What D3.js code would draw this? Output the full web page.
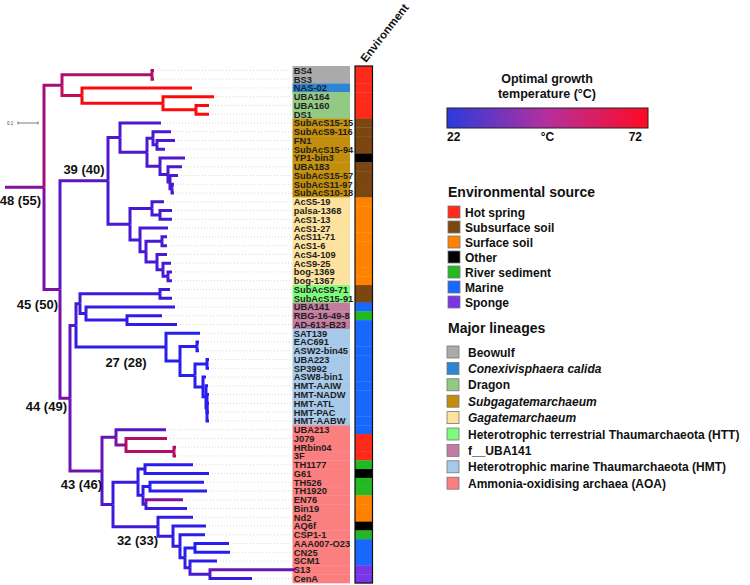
<!DOCTYPE html>
<html><head><meta charset="utf-8">
<script src="https://cdn.jsdelivr.net/npm/d3@7"></script>
<style>body{margin:0;background:#fff} svg{display:block} text{font-family:"Liberation Sans",Arial,sans-serif}</style>
</head><body><svg id="c" width="750" height="585"></svg>
<script>
// ---------------- DATA ----------------
// Phylogeny (branch lengths in substitutions/site); "@" gives the optimal growth temperature of the branch
const treeNewick =
"(((BS4@55:0.01,BS3@55:0.01)Beo@55:0.45,(NAS-02@72:0.55,(UBA164@72:0.255,(UBA160@72:0.065,DS1@72:0.065)D2@72:0.165)Dra@70:0.405)C@58:0.10)A@53:0.09," +
"(((SubAcS15-15@33:0.205,((SubAcS9-116@32:0.09,(FN1@32:0.09,SubAcS15-94@32:0.04)S3b@32:0.02)S3@32:0.03,(YP1-bin3@33:0.125,(UBA183@32:0.07,(SubAcS15-57@32:0.04,(SubAcS11-97@32:0.01,SubAcS10-18@32:0.01)S7@32:0.01)S6@32:0.01)S5@32:0.04)S4@33:0.065)S2@33:0.135)S1@34:0.06," +
"((AcS5-19@31:0.06,(palsa-1368@31:0.06,AcS1-13@31:0.06)GagA2@31:0.04)GagA@31:0.11,(AcS1-27@31:0.14,((AcS11-71@31:0.025,AcS1-6@31:0.025)GagC1@31:0.08,(AcS4-109@31:0.05,(AcS9-25@31:0.04,(bog-1369@31:0.02,bog-1367@31:0.02)GagF@31:0.025)GagE@31:0.03)GagD@31:0.055)GagC@31:0.03)GagB@31:0.05)Gag@32:0.11)G@35:0.24," +
"((((SubAcS9-71@28:0.05,SubAcS15-91@28:0.06)HTT@29:0.40,(UBA141@27:0.445,(RBG-16-49-8@26:0.175,AD-613-B23@26:0.25)F2@26:0.205)F@28:0.03)N80@32:0.02," +
"(SAT139@24:0.17,((EAC691@24:0.01,ASW2-bin45@24:0.01)H2a@24:0.085,((UBA223@24:0.01,SP3992@24:0.01)H3a@24:0.06,(ASW8-bin1@24:0.015,(HMT-AAIW@24:0.01,(HMT-NADW@24:0.01,HMT-ATL@24:0.01,HMT-PAC@24:0.01,HMT-AABW@24:0.01)H6@24:0.005)H5@24:0.015)H4@24:0.04)H3@24:0.075)H2@24:0.07)H1@25:0.45)N76@37:0.03," +
"((UBA213@35:0.25,(J079@56:0.205,(HRbin04@56:0.01,3F@56:0.01)A3@56:0.24)A2@45:0.05)A1@40:0.07," +
"(((TH1177@25:0.24,G61@24:0.32)A6@26:0.035,((TH526@24:0.27,TH1920@24:0.285)A8@25:0.035,(EN76@45:0.185,Bin19@28:0.205)A9@30:0.015)A7@27:0.025)A5@28:0.125," +
"(Nd2@27:0.175,(AQ6f@26:0.165,(CSP1-1@25:0.125,((AAA007-O23@23:0.17,CN25@23:0.175)A14@24:0.05,(SCM1@25:0.135,(S13@40:0.425,CenA@28:0.21)A16@32:0.10)A15@27:0.025)A13@25:0.025)A12@26:0.035)A11@27:0.075)A10@30:0.225)A4@33:0.055)AOA@40:0.16)N70@42:0.05)B@44:0.08)root@46:0.195;";

const leafNames = ["BS4","BS3","NAS-02","UBA164","UBA160","DS1","SubAcS15-15","SubAcS9-116","FN1","SubAcS15-94","YP1-bin3","UBA183","SubAcS15-57","SubAcS11-97","SubAcS10-18","AcS5-19","palsa-1368","AcS1-13","AcS1-27","AcS11-71","AcS1-6","AcS4-109","AcS9-25","bog-1369","bog-1367","SubAcS9-71","SubAcS15-91","UBA141","RBG-16-49-8","AD-613-B23","SAT139","EAC691","ASW2-bin45","UBA223","SP3992","ASW8-bin1","HMT-AAIW","HMT-NADW","HMT-ATL","HMT-PAC","HMT-AABW","UBA213","J079","HRbin04","3F","TH1177","G61","TH526","TH1920","EN76","Bin19","Nd2","AQ6f","CSP1-1","AAA007-O23","CN25","SCM1","S13","CenA"];

// lineage index (into lineages) for each leaf
const leafLineage = [0,0,1,2,2,2,3,3,3,3,3,3,3,3,3,4,4,4,4,4,4,4,4,4,4,5,5,6,6,6,7,7,7,7,7,7,7,7,7,7,7,8,8,8,8,8,8,8,8,8,8,8,8,8,8,8,8,8,8];
// environment index (into envSources) for each leaf
const leafEnv = [0,0,0,0,0,0,1,1,1,1,3,1,1,1,1,2,2,2,2,2,2,2,2,2,2,1,1,5,4,5,5,5,5,5,5,5,5,5,5,5,5,5,0,0,0,4,3,4,4,2,2,2,3,4,5,5,5,6,6];

const lineages = ["Beowulf","Conexivisphaera calida","Dragon","Subgagatemarchaeum","Gagatemarchaeum","Heterotrophic terrestrial Thaumarchaeota (HTT)","f__UBA141","Heterotrophic marine Thaumarchaeota (HMT)","Ammonia-oxidising archaea (AOA)"];
const lineageItalic = [false,true,false,true,true,false,false,false,false];
const lineageColors = ["#ababab","#2c86d2","#92c983","#c28e0c","#fde29d","#7dfb7b","#c27c9f","#a6c9ea","#fb7f7e"];

const envSources = ["Hot spring","Subsurface soil","Surface soil","Other","River sediment","Marine","Sponge"];
const envColors = ["#ff2a1a","#7c4610","#ff8200","#000000","#22b922","#1868ff","#7a36e6"];

const nodeLabels = [
  {node:"root", text:"48 (55)"},
  {node:"G",    text:"39 (40)"},
  {node:"B",    text:"45 (50)"},
  {node:"N70",  text:"44 (49)"},
  {node:"H1",   text:"27 (28)"},
  {node:"AOA",  text:"43 (46)"},
  {node:"A10",  text:"32 (33)"}
];
const tempRange = [22, 72];
const tempTickLabels = ["22","°C","72"];
const scaleBarValue = 0.1;

// ---------------- PARSE ----------------
function parseNewick(s){
  let i=0;
  function node(){
    const n={children:[]};
    if(s[i]==='('){
      i++; n.children.push(node());
      while(s[i]===','){ i++; n.children.push(node()); }
      i++;
    }
    let name='';
    while(i<s.length && !',():;'.includes(s[i])) name+=s[i++];
    let len=0;
    if(s[i]===':'){ i++; let l=''; while(i<s.length && !',();'.includes(s[i])) l+=s[i++]; len=+l; }
    const parts=name.split('@'); n.name=parts[0]; n.temp=+parts[1]; n.length=len;
    return n;
  }
  return node();
}
const root = d3.hierarchy(parseNewick(treeNewick), d=>d.children.length?d.children:null);
root.each(d=>{ d.dist = (d.parent?d.parent.dist:0) + d.data.length; });

// ---------------- SCALES ----------------
const svg = d3.select("#c");
const x = d3.scaleLinear().domain([0,1.45]).range([5,295]);
const y = d3.scaleBand().domain(leafNames).range([66,583]).padding(0);
const bw = y.bandwidth();
const tcol = d3.scaleLinear().domain([22,47,72]).range(["#1f1ff5","#8a0f9a","#ff0a0a"]).interpolate(d3.interpolateRgb);

root.eachAfter(d=>{
  if(!d.children) d.y = y(d.data.name)+bw/2;
  else d.y = (d.children[0].y + d.children[d.children.length-1].y)/2;
});
const byName = {}; root.each(d=>byName[d.data.name]=d);

// ---------------- LABEL COLUMN ----------------
const leaves = root.leaves();
const gl = svg.append("g");
gl.selectAll("line.lead").data(leaves).join("line")
  .attr("x1",d=>x(d.dist)+3).attr("x2",292).attr("y1",d=>d.y).attr("y2",d=>d.y)
  .attr("stroke","#c8c8c8").attr("stroke-width",0.7).attr("stroke-dasharray","1,2");
gl.selectAll("rect.lin").data(leafNames).join("rect")
  .attr("x",292.5).attr("y",d=>y(d)).attr("width",57.5).attr("height",bw+0.3)
  .attr("fill",(d,i)=>lineageColors[leafLineage[i]]);
gl.selectAll("text.leaf").data(leafNames).join("text")
  .attr("x",293.8).attr("y",d=>y(d)+bw/2+3.4).text(d=>d)
  .attr("font-size","9.3px").attr("font-weight","bold").attr("fill","#1e1e1e");

// environment strip
gl.selectAll("rect.env").data(leafNames).join("rect")
  .attr("x",355).attr("y",d=>y(d)).attr("width",17.5).attr("height",bw+0.3)
  .attr("fill",(d,i)=>envColors[leafEnv[i]]);
gl.append("rect").attr("x",355).attr("y",66).attr("width",17.5).attr("height",583-66)
  .attr("fill","none").attr("stroke","#111").attr("stroke-width",1.2);
gl.append("text").attr("transform","translate(366,63) rotate(-52)")
  .text("Environment").attr("font-size","11.5px").attr("font-weight","bold").attr("fill","#111");

// ---------------- TREE ----------------
const gt = svg.append("g").attr("fill","none").attr("stroke-width",3);
gt.append("line").attr("x1",x(0)).attr("x2",x(root.dist)).attr("y1",root.y).attr("y2",root.y)
  .attr("stroke",tcol(root.data.temp));
gt.selectAll("path.br").data(root.descendants().filter(d=>d.parent)).join("path")
  .attr("d",d=>`M${x(d.parent.dist)},${d.parent.y}L${x(d.parent.dist)},${d.y}L${x(d.dist)},${d.y}`)
  .attr("stroke",d=>tcol(d.data.temp)).attr("stroke-linejoin","miter");

// node labels
const labelPos = {
  root:{ref:"node",anchor:"end",dx:-3,dy:18},
  G:{ref:"mid",anchor:"middle",dx:0,dy:-6.5},
  B:{ref:"node",anchor:"end",dx:-2,dy:19},
  N70:{ref:"node",anchor:"end",dx:-3,dy:12.5},
  H1:{ref:"mid",anchor:"middle",dx:5,dy:20},
  AOA:{ref:"node",anchor:"end",dx:0,dy:18.5},
  A10:{ref:"mid",anchor:"middle",dx:2,dy:18}
};
svg.append("g").selectAll("text").data(nodeLabels).join("text")
  .each(function(l){
    const n=byName[l.node], p=labelPos[l.node];
    const px = n.parent? x(n.parent.dist) : x(0);
    const bx = p.ref==="node" ? x(n.dist) : (px + x(n.dist))/2;
    d3.select(this).attr("x",bx+p.dx).attr("y",n.y+p.dy).attr("text-anchor",p.anchor);
  })
  .text(l=>l.text).attr("font-size","13px").attr("font-weight","bold").attr("fill","#111");

// scale bar
const sb = svg.append("g").attr("stroke","#555").attr("stroke-width",0.8);
sb.append("line").attr("x1",18).attr("x2",18+x(scaleBarValue)-x(0)).attr("y1",123).attr("y2",123);
sb.append("line").attr("x1",18).attr("x2",18).attr("y1",121.5).attr("y2",124.5);
sb.append("line").attr("x1",18+x(scaleBarValue)-x(0)).attr("x2",18+x(scaleBarValue)-x(0)).attr("y1",121.5).attr("y2",124.5);
svg.append("text").attr("x",7).attr("y",124.5).text(String(scaleBarValue)).attr("font-size","4.5px").attr("fill","#444");

// ---------------- COLOUR BAR ----------------
const defs = svg.append("defs");
const grad = defs.append("linearGradient").attr("id","tg");
[["0%","#2a3bdc"],["50%","#b62f9d"],["100%","#ff0a22"]].forEach(s=>grad.append("stop").attr("offset",s[0]).attr("stop-color",s[1]));
const cb = d3.scaleLinear().domain(tempRange).range([447,648]);
svg.append("rect").attr("x",cb(22)).attr("y",108).attr("width",cb(72)-cb(22)).attr("height",20)
  .attr("fill","url(#tg)").attr("stroke","#222").attr("stroke-width",1);
svg.append("text").attr("x",547).attr("y",83).attr("text-anchor","middle").text("Optimal growth")
  .attr("font-size","12.5px").attr("font-weight","bold").attr("fill","#111");
svg.append("text").attr("x",547).attr("y",98).attr("text-anchor","middle").text("temperature (°C)")
  .attr("font-size","12.5px").attr("font-weight","bold").attr("fill","#111");
const tickX = [cb(22), cb(47), cb(72)], tickA = ["start","middle","end"];
svg.append("g").selectAll("text").data(tempTickLabels).join("text")
  .attr("x",(d,i)=>tickX[i] + (i===2?-6:0)).attr("y",141).attr("text-anchor",(d,i)=>tickA[i]).text(d=>d)
  .attr("font-size","12px").attr("font-weight","bold").attr("fill","#111");

// ---------------- LEGENDS ----------------
svg.append("text").attr("x",448).attr("y",197).text("Environmental source")
  .attr("font-size","14px").attr("font-weight","bold").attr("fill","#111");
const ge = svg.append("g").selectAll("g").data(envSources).join("g")
  .attr("transform",(d,i)=>`translate(448,${212+i*15})`);
ge.append("rect").attr("x",0).attr("y",-6).attr("width",12).attr("height",12)
  .attr("fill",(d,i)=>envColors[i]).attr("stroke","#777").attr("stroke-width",0.8);
ge.append("text").attr("x",17).attr("y",4.5).text(d=>d)
  .attr("font-size","12px").attr("font-weight","bold").attr("fill","#111");

svg.append("text").attr("x",448).attr("y",333).text("Major lineages")
  .attr("font-size","14px").attr("font-weight","bold").attr("fill","#111");
const gm = svg.append("g").selectAll("g").data(lineages).join("g")
  .attr("transform",(d,i)=>`translate(447,${352+i*16.4})`);
gm.append("rect").attr("x",0).attr("y",-6).attr("width",12).attr("height",12)
  .attr("fill",(d,i)=>lineageColors[i]).attr("stroke","#777").attr("stroke-width",0.8);
gm.append("text").attr("x",21).attr("y",4.5).text(d=>d)
  .attr("font-size","12px").attr("font-weight","bold").attr("fill","#111")
  .attr("font-style",(d,i)=>lineageItalic[i]?"italic":"normal");
</script></body></html>
